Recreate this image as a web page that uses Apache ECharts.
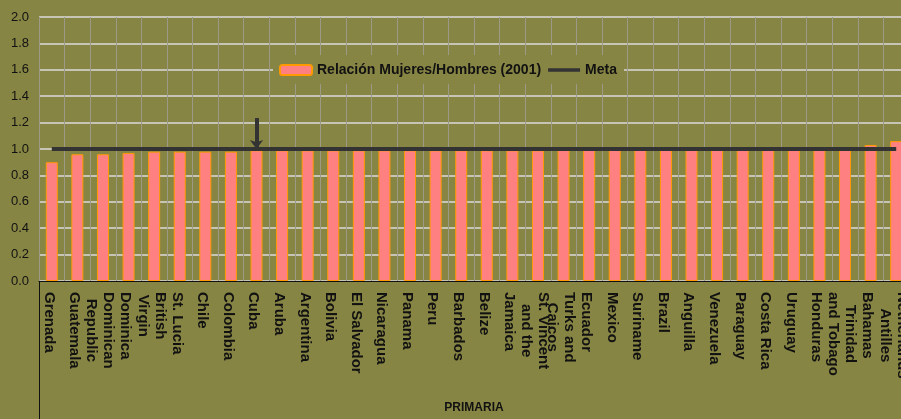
<!DOCTYPE html>
<html>
<head>
<meta charset="utf-8">
<title>Relación Mujeres/Hombres - Primaria</title>
<script src="https://cdn.jsdelivr.net/npm/echarts@6.0.0/dist/echarts.min.js"></script>
<style>
  html, body { margin: 0; padding: 0; background: #878544; overflow: hidden; }
  /* el grafico original sigue mas alla del borde derecho */
  #main { width: 915px; height: 419px; }
</style>
</head>
<body>
<div id="main"></div>
<script>
// paises (categorias)
var paises = ['Grenada', 'Guatemala', 'Dominican\nRepublic', 'Dominica', 'British\nVirgin', 'St. Lucia',
    'Chile', 'Colombia', 'Cuba', 'Aruba', 'Argentina', 'Bolivia', 'El Salvador', 'Nicaragua',
    'Panama', 'Peru', 'Barbados', 'Belize', 'Jamaica', 'St. Vincent\nand the', 'Turks and\nCaicos',
    'Ecuador', 'Mexico', 'Suriname', 'Brazil', 'Anguilla', 'Venezuela', 'Paraguay', 'Costa Rica',
    'Uruguay', 'Honduras', 'Trinidad\nand Tobago', 'Bahamas', 'Netherlands\nAntilles'];
// relacion mujeres/hombres (2001)
var relacion = [0.90, 0.96, 0.96, 0.97, 0.98, 0.98,
    0.98, 0.98, 0.99, 0.99, 0.99, 0.99, 0.99, 0.99,
    0.99, 0.99, 0.99, 0.99, 0.99, 0.99, 1.00,
    1.00, 1.00, 1.00, 1.00, 1.00, 1.00, 1.00, 1.00,
    1.00, 1.00, 1.00, 1.03, 1.06];
// meta
var meta = [1, 1, 1, 1, 1, 1, 1, 1, 1, 1, 1, 1, 1, 1, 1, 1, 1,
    1, 1, 1, 1, 1, 1, 1, 1, 1, 1, 1, 1, 1, 1, 1, 1, 1];
// flecha sobre Cuba
var flechaPais = 'Cuba';
var flechaDesde = 1.235;
var flechaHasta = 1.0;
// eje y
var yMin = 0, yMax = 2, yPaso = 0.2;
var grupo = ['PRIMARIA'];

var fondo = '#878544';
var arial = "'Liberation Sans', Arial, sans-serif";

var chart = echarts.init(document.getElementById('main'));

var option = {
    backgroundColor: fondo,
    animation: false,
    legend: {
        data: [
            { name: 'Relación Mujeres/Hombres (2001)' },
            // icono de linea gruesa sin simbolo
            { name: 'Meta', icon: 'path://M0,0H35V4H0Z' }
        ],
        left: 273,
        top: 55,
        padding: [8, 7, 7, 6],
        itemGap: 7,
        itemWidth: 32,
        itemHeight: 10,
        backgroundColor: fondo,
        textStyle: { fontFamily: arial, fontWeight: 'bold', fontSize: 14, color: '#111' }
    },
    grid: { left: 39, top: 17, width: 870, height: 264 },
    xAxis: [{
        type: 'category',
        data: paises,
        gridIndex: 0,
        axisLine: { show: true, lineStyle: { color: '#111', width: 1 } },
        axisTick: { show: false },
        splitLine: { show: true, interval: 0, lineStyle: { color: '#9c9a86', width: 1 } },
        axisLabel: {
            interval: 0,
            rotate: -90,
            margin: 11,
            padding: [6, 0, 0, 0],
            formatter: function (v) {
                // cada linea centrada como en el original
                return v.split('\n').map(function (s) { return '{c|' + s + '}'; }).join('\n');
            },
            rich: {
                c: {
                    align: 'center',
                    fontFamily: arial,
                    fontWeight: 'bold',
                    fontSize: 15,
                    lineHeight: 17,
                    color: '#111'
                }
            }
        }
    }, {
        type: 'category',
        data: grupo,
        gridIndex: 0,
        position: 'bottom',
        offset: 0,
        axisLine: { show: false },
        axisTick: { show: true, length: 138, lineStyle: { color: '#111', width: 1 } },
        splitLine: { show: false },
        axisLabel: {
            margin: 121,
            fontFamily: arial,
            fontWeight: 'bold',
            fontSize: 12,
            color: '#111'
        }
    }],
    yAxis: {
        type: 'value',
        min: yMin,
        max: yMax,
        interval: yPaso,
        axisLine: { show: false },
        axisTick: { show: false },
        splitLine: { show: true, lineStyle: { color: '#c6c5b5', width: 2 } },
        axisLabel: {
            margin: 10,
            fontFamily: arial,
            fontSize: 13,
            color: '#111',
            formatter: function (v) { return v.toFixed(1); }
        }
    },
    series: [{
        name: 'Relación Mujeres/Hombres (2001)',
        type: 'bar',
        xAxisIndex: 0,
        data: relacion,
        barWidth: 12,
        itemStyle: { color: '#ff8080', borderColor: '#ff9900', borderWidth: 1 }
    }, {
        name: 'Meta',
        type: 'line',
        xAxisIndex: 0,
        data: meta,
        symbol: 'none',
        lineStyle: { color: '#333333', width: 4 },
        itemStyle: { color: '#333333' },
        markLine: {
            silent: true,
            symbol: ['none', 'arrow'],
            symbolSize: [10, 9],
            label: { show: false },
            lineStyle: { color: '#333333', width: 4, type: 'solid' },
            data: [[
                { coord: [flechaPais, flechaDesde] },
                { coord: [flechaPais, flechaHasta] }
            ]]
        }
    }]
};

chart.setOption(option);
</script>
</body>
</html>
